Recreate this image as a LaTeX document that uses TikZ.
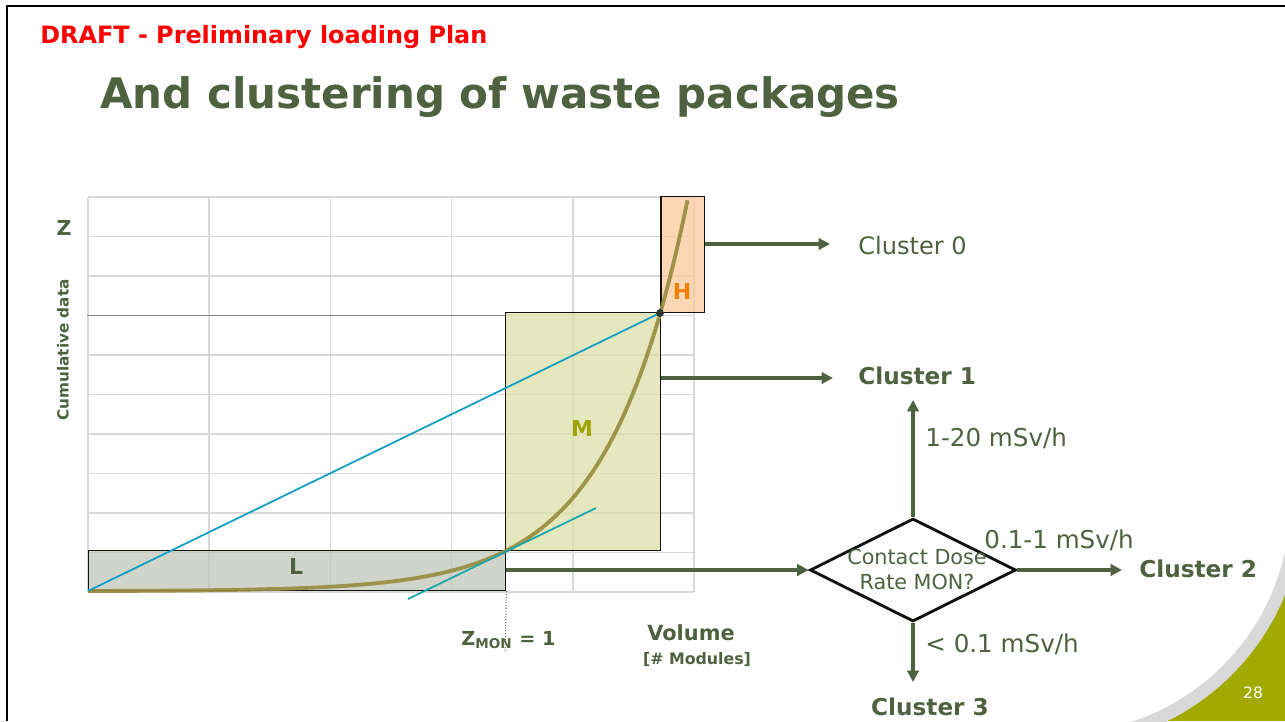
\documentclass[tikz,border=0pt]{standalone}
\usepackage{fontspec}
\setmainfont{DejaVu Sans}
\usetikzlibrary{calc,shapes.geometric,arrows.meta}
\definecolor{slidegreen}{RGB}{79,98,64}
\definecolor{draftred}{RGB}{255,0,0}
\definecolor{cornerolive}{RGB}{162,170,0}
\definecolor{bandgray}{RGB}{217,217,217}
\definecolor{gridgray}{RGB}{217,217,217}
\definecolor{lowfill}{RGB}{192,199,187}
\definecolor{midfill}{RGB}{220,223,168}
\definecolor{highfill}{RGB}{250,202,156}
\definecolor{curvecol}{RGB}{150,140,62}
\definecolor{chordblue}{RGB}{15,158,196}
\definecolor{tanteal}{RGB}{25,165,172}
\definecolor{midlabel}{RGB}{155,164,0}
\definecolor{highlabel}{RGB}{240,128,0}
\tikzset{
	gridline/.style={draw=gridgray, line width=1pt},
	zone/.style={draw=black!80!slidegreen, line width=0.85pt, fill opacity=0.75, inner sep=0pt, anchor=south west},
	flow/.style={draw=slidegreen, line width=2.2pt, -{Triangle[length=6.5pt,width=6.5pt]}},
	decision/.style={shape=diamond, draw=black!85!slidegreen, line width=1.6pt, fill=white, inner sep=0pt, minimum width=4.12cm, minimum height=2.06cm},
	txt/.style={text=slidegreen, inner sep=0pt},
}
\def\fs#1#2{\fontsize{#1}{#2}\selectfont}

\begin{document}
\begin{tikzpicture}[x=0.02cm, y=-0.02cm]
			%%%%% START %%%%%
			\useasboundingbox (0,0) rectangle (1285,721);
			
			% corner decoration
			\begin{scope}
				\clip (1090,530) rectangle (1285,721);
				\fill[cornerolive] (1090,530) rectangle (1285,721);
				\fill[bandgray] (1060,503) circle (243);
				\fill[white] (1060,503) circle (230);
			\end{scope}
			\node[txt, text=white, font=\fs{8.9}{10}, anchor=base] (pagenum) at (1253,698) {28};
			
			% slide frame
			\draw[line width=1.6pt] (7,721) -- (7,6) -- (1290,6);
			
			\node[txt, text=draftred, font=\bfseries\fs{13.6}{16}, anchor=base west] (draft) at (40,43) {DRAFT - Preliminary loading Plan};
			\node[txt, font=\bfseries\fs{23.9}{28}, anchor=base west] (title) at (100,108) {And clustering of waste packages};
			
			% grid
			\foreach \i in {0,...,5}
				\draw[gridline] ({88+121.2*\i},197) -- ({88+121.2*\i},592);
			\foreach \j in {0,...,10}
				\draw[gridline] (88,{197+39.5*\j}) -- (694,{197+39.5*\j});
			\draw[line width=0.9pt, color=black!30!gridgray!70!slidegreen] (87,315.5) -- (505,315.5);
			
			\coordinate (origin) at (88,591);
			\coordinate (knee) at (505,551);
			\coordinate (peak) at (660,313);
			
			% L / M / H zones
			\node[zone, fill=lowfill, minimum width=8.34cm, minimum height=0.8cm] (Lbox) at (origin) {};
			\node[zone, fill=midfill, minimum width=3.1cm, minimum height=4.76cm] (Mbox) at (knee) {};
			\node[zone, fill=highfill, minimum width=0.88cm, minimum height=2.32cm] (Hbox) at (peak) {};
			
			\draw[curvecol, line width=2.2pt, opacity=0.9] plot[domain=88:687.5, samples=120, smooth] (\x, {591-0.218*(exp(0.0125*(\x-88))-1)});
			\draw[chordblue, line width=1pt] (origin) -- (peak);
			\draw[tanteal, line width=1pt] ($(knee)+(-97,48)$) -- ($(knee)+(91,-43)$);
			\draw[fill=slidegreen!60!black, draw=black!80] (peak) circle (3.5);
			
			\node[txt, font=\bfseries\fs{12.5}{14}] (Llab) at (296,566) {L};
			\node[txt, text=midlabel, font=\bfseries\fs{12.5}{14}] (Mlab) at (582,428) {M};
			\node[txt, text=highlabel, font=\bfseries\fs{12.5}{14}] (Hlab) at (682,291) {H};
			
			% axis labels
			\node[txt, font=\bfseries\fs{11.7}{14}, anchor=base] (zlab) at (64,235) {Z};
			\node[txt, font=\bfseries\fs{8.7}{10}, rotate=90] (cumlab) at (63,350) {Cumulative data};
			\coordinate (zmon) at (505,652);
			\draw[densely dotted, black!60, line width=0.6pt] (Lbox.south east) -- (zmon);
			\node[txt, font=\bfseries\fs{11}{13}, anchor=base west] (zmonlab) at (461,645) {Z\textsubscript{MON} = 1};
			\node[txt, font=\bfseries\fs{11.9}{14}, anchor=base] (vollab) at (691,640) {Volume};
			\node[txt, font=\bfseries\fs{9}{11}, anchor=base] (modlab) at (697,664) {[\# Modules]};
			
			% clusters
			\node[txt, font=\fs{13.7}{16}, anchor=base west] (c0) at (858,254) {Cluster 0};
			\node[txt, font=\bfseries\fs{13.2}{16}, anchor=base west] (c1) at (858,384) {Cluster 1};
			\node[txt, font=\bfseries\fs{13.2}{16}, anchor=base west] (c2) at (1139,577) {Cluster 2};
			\node[txt, font=\bfseries\fs{13.2}{16}, anchor=base] (c3) at (930,715) {Cluster 3};
			
			\node[decision] (dose) at (913,570) {};
			\node[txt, font=\fs{11.8}{14.2}, align=center] (doselab) at (917,569) {Contact Dose\\Rate MON?};
			\coordinate (upend) at (913,400);
			\coordinate (downend) at (913,682);
			
			\draw[flow] (Hbox.east |- 0,244) -- (830,244);
			\draw[flow] (Mbox.east |- 0,378) -- (833,378);
			\draw[flow] (Lbox.east |- dose.west) -- (dose.west);
			\draw[flow] (dose.north) -- (upend);
			\draw[flow, shorten >=0.34cm] (dose.east) -- (c2.west |- dose.east);
			\draw[flow] (dose.south) -- (downend);
			
			\node[txt, font=\fs{14}{16}, anchor=base west] (rhi) at (925,446) {1-20 mSv/h};
			\node[txt, font=\fs{14}{16}, anchor=base west] (rmid) at (984,548) {0.1-1 mSv/h};
			\node[txt, font=\fs{14}{16}, anchor=base west] (rlo) at (925,652) {< 0.1 mSv/h};
			
			%%%%% END %%%%%
\end{tikzpicture}
\end{document}
